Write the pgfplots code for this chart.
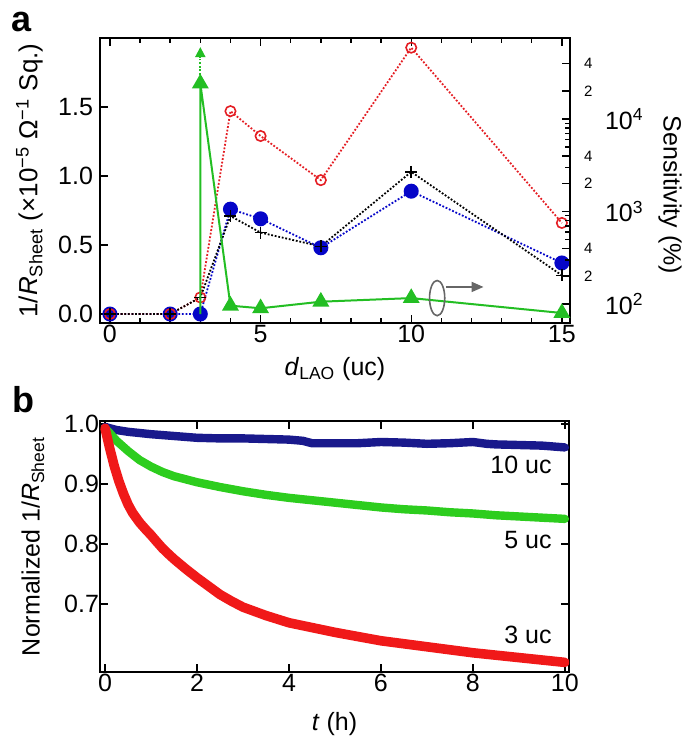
\documentclass[border=0pt]{standalone}
\usepackage{fontspec}
\setmainfont{Liberation Sans}
\usepackage{pgfplots}
\pgfplotsset{compat=1.18}
\usetikzlibrary{arrows.meta}

\definecolor{ared}{RGB}{228,30,36}
\definecolor{ablue}{RGB}{5,5,200}
\definecolor{agreen}{RGB}{35,190,35}
\definecolor{bblue}{RGB}{25,25,140}
\definecolor{bgreen}{RGB}{45,205,30}
\definecolor{bred}{RGB}{240,25,25}

\pgfplotsset{
  every axis/.append style={
    font=\fontsize{12.5}{14.5}\selectfont,
    /pgf/number format/assume math mode=true,
    tick align=inside,
    major tick length=4pt,
    minor tick length=2.5pt,
    every tick/.style={black, line width=0.7pt},
    axis line style={line width=0.8pt},
    xticklabel style={yshift=2.5pt},
  },
}
\tikzset{dots/.style={line width=0.9pt, dash pattern=on 0.9pt off 0.9pt}}

\begin{document}
\begin{tikzpicture}
\useasboundingbox (0,0) rectangle (342.5pt,369.5pt);

% panel labels
\node[anchor=base, inner sep=0, font=\fontsize{18}{20}\selectfont\bfseries] at (11pt,353.5pt) {a};
\node[anchor=base, inner sep=0, font=\fontsize{18}{20}\selectfont\bfseries] at (11.5pt,163pt) {b};

% ---- panel a, left axis
\begin{axis}[
  at={(50pt,208pt)}, anchor=south west,
  scale only axis, width=235pt, height=142.5pt,
  xmin=-0.33, xmax=15.27, ymin=-0.065, ymax=2.0,
  xtick={0,5,10,15}, minor x tick num=4,
  ytick={0,0.5,1,1.5}, ytick pos=left,
  yticklabel style={/pgf/number format/.cd, fixed, fixed zerofill, precision=1},
  xlabel={\textit{d}\textsubscript{LAO} (uc)},
  ylabel={1/\textit{R}\textsubscript{Sheet} (×10\textsuperscript{−5} Ω\textsuperscript{−1} Sq.)},
  every axis x label/.style={at={(axis description cs:0.5,-0.163)}, anchor=center},
  every axis y label/.style={at={(axis description cs:-0.150,0.5)}, anchor=center, rotate=90,
    font=\fontsize{13}{15}\selectfont},
]
\addplot[ablue, dots, mark=*, mark size=3.3pt, mark options={solid, fill=ablue, draw=ablue}]
  coordinates {(0,0) (2,0) (3,0) (4,0.76) (5,0.69) (7,0.48) (10,0.89) (15,0.37)};
\addplot[ared, dots, mark=o, mark size=2.6pt, mark options={solid, line width=0.8pt}]
  coordinates {(0,0) (2,0) (3,0.12) (4,1.47) (5,1.29) (7,0.97) (10,1.93) (15,0.66)};
\addplot[black, dots, mark=+, mark size=3pt, mark options={solid, line width=0.8pt}]
  coordinates {(0,0) (2,0) (3,0.12) (4,0.71) (5,0.59) (7,0.49) (10,1.03) (15,0.28)};
\end{axis}

% ---- panel a, right (log) axis: sensitivity
\begin{axis}[
  at={(50pt,208pt)}, anchor=south west,
  scale only axis, width=235pt, height=142.5pt,
  xmin=-0.33, xmax=15.27, ymode=log, ymin=62.4, ymax=75200,
  hide x axis, axis y line*=right,
  ytick={100,1000,10000},
  yticklabels={10\textsuperscript{2},10\textsuperscript{3},10\textsuperscript{4}},
  yticklabel style={xshift=14pt},
  extra y ticks={200,400,2000,4000,20000,40000},
  extra y tick labels={2,4,2,4,2,4},
  extra y tick style={yticklabel style={font=\fontsize{7.5}{9}\selectfont, xshift=-10.5pt}},
  ylabel={Sensitivity (\%)},
  every axis y label/.style={at={(axis description cs:1.213,0.45)}, anchor=center, rotate=-90},
]
\addplot[agreen, line width=1pt, mark=triangle*, mark size=3.9pt, mark indices={2,3,4,5,6,7},
  mark options={fill=agreen, draw=agreen}]
  coordinates {(3,78) (3,24200) (4,96) (5,90) (7,106) (10,116) (15,80)};
\draw[agreen, line width=0.9pt, dash pattern=on 0.9pt off 0.9pt, -{Triangle[length=5pt,width=5pt]}]
  (axis cs:3,30000) -- (axis cs:3,60000);
\draw[gray!80!black, line width=0.8pt] (axis cs:10.86,116) ellipse [x radius=3.8pt, y radius=8.8pt];
\draw[gray!80!black, line width=0.9pt, -{Triangle[length=6pt,width=5pt]}]
  (axis cs:11.15,153) -- (axis cs:12.4,153);
\end{axis}

% ---- panel b
\begin{axis}[
  at={(50pt,33.5pt)}, anchor=south west,
  scale only axis, width=234.5pt, height=125.5pt,
  xmin=-0.11, xmax=10.09, ymin=0.587, ymax=1.005,
  xtick={0,2,4,6,8,10}, ytick={0.7,0.8,0.9,1.0},
  yticklabel style={xshift=3pt, /pgf/number format/.cd, fixed, fixed zerofill, precision=1},
  xlabel={\textit{t} (h)},
  ylabel={Normalized 1/\textit{R}\textsubscript{Sheet}},
  every axis x label/.style={at={(axis description cs:0.5,-0.207)}, anchor=center},
  every axis y label/.style={at={(axis description cs:-0.143,0.5)}, anchor=center, rotate=90},
]
\addplot[bblue, line width=4.2pt, line cap=round, line join=round] coordinates {
  (0,0.995) (0.25,0.990) (0.5,0.987) (1,0.983) (1.5,0.980) (2,0.977) (2.5,0.976)
  (3,0.976) (3.5,0.975) (4,0.974) (4.3,0.972) (4.5,0.968) (5,0.968) (5.5,0.968)
  (6,0.970) (6.5,0.969) (7,0.967) (7.5,0.968) (8,0.970) (8.3,0.967) (8.5,0.966)
  (9,0.965) (9.5,0.964) (10,0.961)};
\addplot[bgreen, line width=4.2pt, line cap=round, line join=round] coordinates {
  (0,0.993) (0.1,0.985) (0.25,0.972) (0.5,0.955) (0.75,0.940) (1,0.929) (1.25,0.920)
  (1.5,0.913) (2,0.903) (2.5,0.895) (3,0.888) (3.5,0.882) (4,0.877) (4.5,0.873)
  (5,0.869) (5.5,0.865) (6,0.861) (6.5,0.858) (7,0.856) (7.5,0.853) (8,0.851)
  (8.5,0.848) (9,0.846) (9.5,0.844) (10,0.842)};
\addplot[bred, line width=4.8pt, line cap=round, line join=round] coordinates {
  (0,0.993) (0.1,0.960) (0.2,0.930) (0.3,0.905) (0.4,0.884) (0.5,0.866) (0.6,0.852)
  (0.75,0.836) (0.9,0.823) (1,0.815) (1.1,0.806) (1.25,0.793) (1.4,0.782) (1.5,0.775)
  (1.75,0.759) (2,0.744) (2.25,0.730) (2.5,0.716) (2.75,0.705) (3,0.695) (3.25,0.688)
  (3.5,0.681) (3.75,0.675) (4,0.669) (4.5,0.661) (5,0.653) (5.5,0.646) (6,0.639)
  (6.5,0.634) (7,0.629) (7.5,0.624) (8,0.619) (8.5,0.615) (9,0.611) (9.5,0.607)
  (10,0.603)};
\node[anchor=base east, inner sep=0, font=\fontsize{12.5}{14}\selectfont] at (axis cs:9.72,0.918) {10 uc};
\node[anchor=base east, inner sep=0, font=\fontsize{12.5}{14}\selectfont] at (axis cs:9.72,0.793) {5 uc};
\node[anchor=base east, inner sep=0, font=\fontsize{12.5}{14}\selectfont] at (axis cs:9.72,0.635) {3 uc};
\end{axis}
\end{tikzpicture}
\end{document}
